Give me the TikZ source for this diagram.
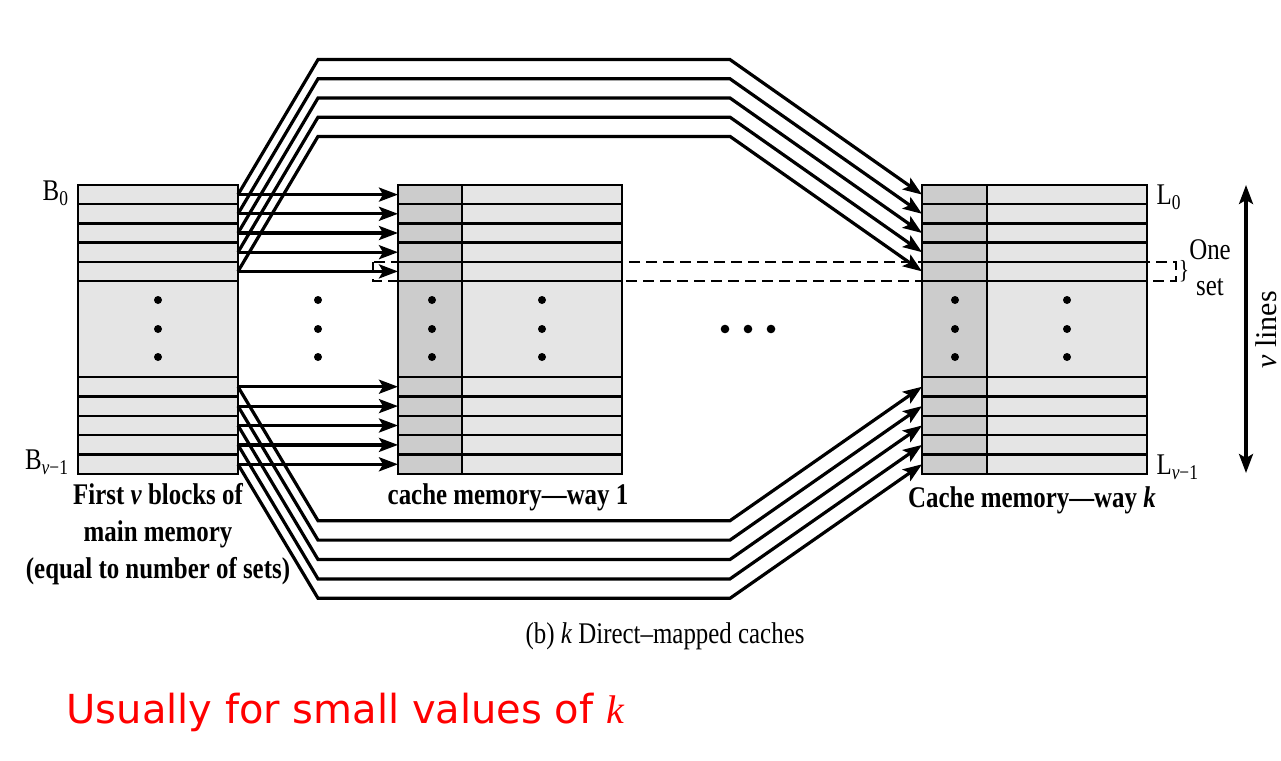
\documentclass[tikz,border=0pt]{standalone}
\usepackage{fontspec}
\setmainfont{Liberation Serif}
\newfontfamily\figfont[FakeStretch=0.83]{Liberation Serif}
\newfontfamily\notefont{DejaVu Sans}
\usetikzlibrary{arrows.meta}

\tikzset{
  box/.style={line width=2.5pt},
  link/.style={line width=3.2pt,-{Stealth[length=19pt,width=14pt,inset=4pt]}},
  lbl/.style={font=\figfont\fontsize{30}{37}\selectfont\bfseries,align=center},
  txt/.style={font=\figfont\fontsize{30}{37}\selectfont},
}

\begin{document}
\begin{tikzpicture}[x=1pt,y=-1pt]
  \useasboundingbox (0,0) rectangle (1281,760);

  % one set
  \draw[line width=2.5pt,dash pattern=on 11pt off 6pt] (373,262) rectangle (1176,281);

  % main memory
  \filldraw[box,fill=gray!20] (78,185) rectangle (238,474);
  % way 1 and way k
  \filldraw[box,fill=gray!20] (398,185) rectangle (622,474);
  \filldraw[box,fill=gray!40] (398,185) rectangle (462,474);
  \filldraw[box,fill=gray!20] (922,185) rectangle (1147,474);
  \filldraw[box,fill=gray!40] (922,185) rectangle (987,474);
  \foreach \y in {204.2,223.4,242.6,261.8,281,377,396.4,415.8,435.2,454.6}{
    \draw[box] (78,\y) -- (238,\y);
    \draw[box] (398,\y) -- (622,\y);
    \draw[box] (922,\y) -- (1147,\y);
  }

  % dots
  \foreach \x in {158,318,432,542,955,1067}
    \foreach \y in {300,329,357}
      \fill (\x,\y) circle (4pt);
  \foreach \x in {725,748,771}
    \fill (\x,329) circle (4.3pt);

  % row ends
  \foreach \i in {0,...,4}{
    \coordinate (m\i) at (238,194.6+19.2*\i);
    \coordinate (w\i) at (398,194.6+19.2*\i);
    \coordinate (k\i) at (922,194.6+19.2*\i);
    \coordinate (mb\i) at (238,386.7+19.4*\i);
    \coordinate (wb\i) at (398,386.7+19.4*\i);
    \coordinate (kb\i) at (922,386.7+19.4*\i);
  }

  % mapping
  \foreach \i in {0,...,4}{
    \draw[link] (m\i) -- (w\i);
    \draw[link] (mb\i) -- (wb\i);
    \draw[link] (m\i) -- ++(80,-135) -- ++(412,0) -- (k\i);
    \draw[link] (mb\i) -- ++(80,134) -- ++(412,0) -- (kb\i);
  }

  % labels
  \node[txt,anchor=east] (b0) at (72,193) {B\textsubscript{0}};
  \node[txt,anchor=east] (bv) at (72,462) {B\textsubscript{\itshape v\upshape−1}};
  \node[txt,anchor=west] (l0) at (1153,197) {L\textsubscript{0}};
  \node[txt,anchor=west] (lv) at (1153,467) {L\textsubscript{\itshape v\upshape−1}};
  \node[txt] (one) at (1210,250) {One};
  \node[txt] (set) at (1210,287) {set};
  \node[font=\figfont\fontsize{26}{26}\selectfont] (brace) at (1184,271) {\}};

  \coordinate (vtop) at (1246,185);
  \coordinate (vbot) at (1246,473);
  \draw[line width=3.2pt,{Stealth[length=19pt,width=14pt,inset=4pt]}-{Stealth[length=19pt,width=14pt,inset=4pt]}] (vtop) -- (vbot);
  \node[rotate=90,font=\fontsize{30}{36}\selectfont] (vl) at (1266,330) {\textit{v} lines};

  \node[lbl] (mmcap) at (158,534) {First \textit{v} blocks of\\main memory\\(equal to number of sets)};
  \node[lbl] (w1cap) at (508,497) {cache memory—way 1};
  \node[lbl] (wkcap) at (1032,500) {Cache memory—way \textit{k}};
  \node[txt] (cap) at (665,636) {(b) \textit{k} Direct–mapped caches};

  \node[anchor=base west,text=red,font=\notefont\fontsize{40}{48}\selectfont] (note) at (63,723)
    {Usually for small values of {\rmfamily\itshape k}};
\end{tikzpicture}
\end{document}
